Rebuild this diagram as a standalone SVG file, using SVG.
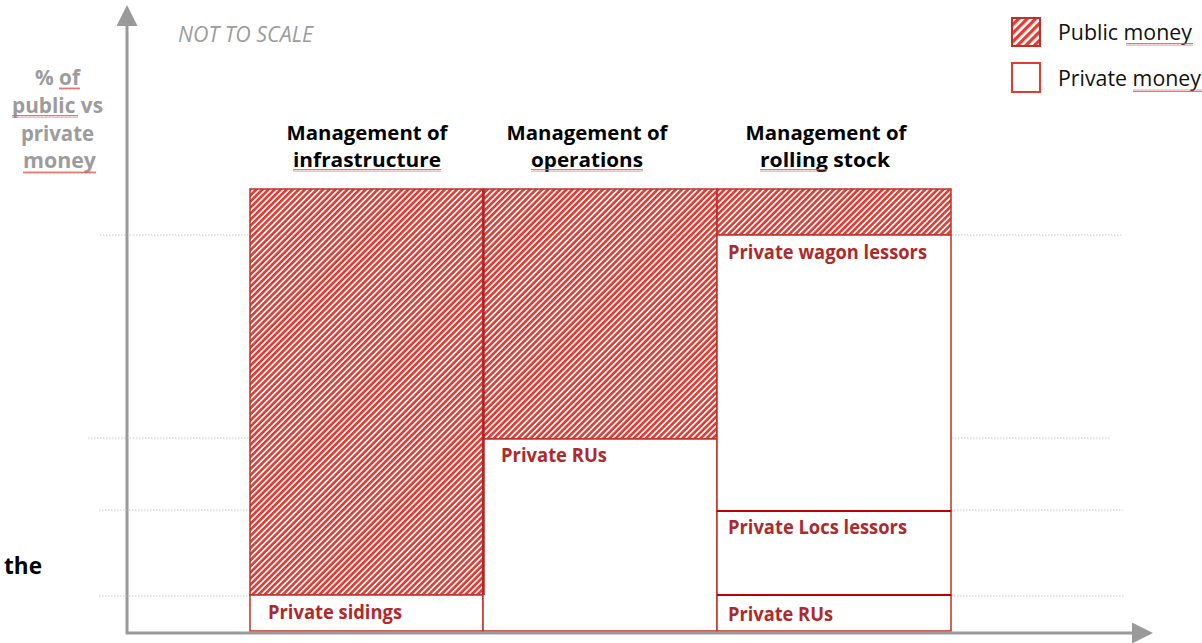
<svg xmlns="http://www.w3.org/2000/svg" width="1202" height="643" viewBox="0 0 1202 643">
  <defs>
    <pattern id="hatch" patternUnits="userSpaceOnUse" width="4.3" height="10" patternTransform="rotate(45)">
      <rect x="0" y="0" width="2.6" height="10" fill="#e33b31"/>
    </pattern>
    <pattern id="hatchLegend" patternUnits="userSpaceOnUse" width="6" height="10" patternTransform="rotate(45)">
      <rect x="0" y="0" width="3.3" height="10" fill="#e33b31"/>
    </pattern>
    <pattern id="wavy" patternUnits="userSpaceOnUse" width="4" height="3">
      <path d="M0,2.5 L1,0.5 L2,2.5 L3,0.5 L4,2.5" fill="none" stroke="#e0554d" stroke-width="0.8"/>
    </pattern>
    <marker id="arrowHead" viewBox="0 0 10 10" refX="0" refY="5" markerWidth="7" markerHeight="7" markerUnits="strokeWidth" orient="auto">
      <path d="M0,0 L10,5 L0,10 Z" fill="#9a9a9a"/>
    </marker>
    <style>
      .grid { stroke: #c8c8c8; stroke-width: 1; stroke-dasharray: 1.5 1.5; fill: none; }
      .axis { stroke: #9a9a9a; stroke-width: 3; fill: none; }
      .pub { fill: url(#hatch); stroke: #c0302a; stroke-width: 1.5; }
      .priv { fill: #ffffff; stroke: #c0302a; stroke-width: 1.5; }
      .title { font-family: "Open Sans", "Liberation Sans", sans-serif; font-weight: 700; font-size: 20px; fill: #000; text-anchor: middle; }
      .lbl { font-family: "Open Sans", "Liberation Sans", sans-serif; font-weight: 700; font-size: 19px; fill: #b0282a; }
      .ylab { font-family: "Open Sans", "Liberation Sans", sans-serif; font-weight: 700; font-size: 20.5px; fill: #9c9c9c; text-anchor: middle; }
      .note { font-family: "Open Sans", "Liberation Sans", sans-serif; font-style: italic; font-size: 21px; fill: #9c9c9c; }
      .leg { font-family: "Open Sans", "Liberation Sans", sans-serif; font-size: 21px; fill: #111; }
      .sq { fill: url(#wavy); }
    </style>
  </defs>

  <!-- grid guides -->
  <g id="guides">
    <line class="grid" x1="100" y1="235" x2="1123" y2="235"/>
    <line class="grid" x1="88" y1="438" x2="1111" y2="438"/>
    <line class="grid" x1="99" y1="510" x2="1123" y2="510"/>
    <line class="grid" x1="99" y1="596" x2="1124" y2="596"/>
  </g>

  <!-- columns -->
  <g id="col-infrastructure">
    <rect class="pub" x="250" y="189" width="233" height="406"/>
    <rect class="priv" x="250" y="595" width="233" height="36"/>
    <text class="lbl" x="268" y="619" textLength="134" lengthAdjust="spacingAndGlyphs">Private sidings</text>
  </g>
  <g id="col-operations">
    <rect class="pub" x="483" y="189" width="234" height="250"/>
    <rect class="priv" x="483" y="439" width="234" height="192"/>
    <line x1="483.5" y1="189" x2="483.5" y2="595" stroke="#b02525" stroke-width="2.5"/>
    <text class="lbl" x="501" y="462" textLength="106" lengthAdjust="spacingAndGlyphs">Private RUs</text>
  </g>
  <g id="col-rolling-stock">
    <rect class="pub" x="717" y="189" width="234" height="46"/>
    <rect class="priv" x="717" y="235" width="234" height="276"/>
    <rect class="priv" x="717" y="511" width="234" height="84"/>
    <rect class="priv" x="717" y="595" width="234" height="36"/>
    <line x1="717" y1="511" x2="951" y2="511" stroke="#c00000" stroke-width="2"/>
    <line x1="717" y1="595" x2="951" y2="595" stroke="#c00000" stroke-width="2"/>
    <text class="lbl" x="728" y="259" textLength="199" lengthAdjust="spacingAndGlyphs">Private wagon lessors</text>
    <text class="lbl" x="728" y="534" textLength="179" lengthAdjust="spacingAndGlyphs">Private Locs lessors</text>
    <text class="lbl" x="728" y="621" textLength="105" lengthAdjust="spacingAndGlyphs">Private RUs</text>
  </g>

  <!-- axes -->
  <g id="connectors">
    <line class="axis" x1="127" y1="634" x2="127" y2="26" marker-end="url(#arrowHead)"/>
    <line class="axis" x1="126" y1="633" x2="1132" y2="633" marker-end="url(#arrowHead)"/>
  </g>

  <!-- column titles -->
  <g id="titles">
    <text class="title" x="367" y="140" textLength="161" lengthAdjust="spacingAndGlyphs">Management of</text>
    <text class="title" x="367" y="167" textLength="148" lengthAdjust="spacingAndGlyphs">infrastructure</text>
    <text class="title" x="587" y="140" textLength="161" lengthAdjust="spacingAndGlyphs">Management of</text>
    <text class="title" x="587" y="167" textLength="112" lengthAdjust="spacingAndGlyphs">operations</text>
    <text class="title" x="826" y="140" textLength="161" lengthAdjust="spacingAndGlyphs">Management of</text>
    <text class="title" x="825" y="167" textLength="130" lengthAdjust="spacingAndGlyphs">rolling stock</text>
    <rect class="sq" x="293" y="169" width="148" height="3"/>
    <rect class="sq" x="531" y="169" width="112" height="3"/>
    <rect class="sq" x="760" y="169" width="67" height="3"/>
  </g>

  <!-- y-axis label -->
  <g id="y-label">
    <text class="ylab" x="57.5" y="85" textLength="45" lengthAdjust="spacingAndGlyphs">% of</text>
    <text class="ylab" x="57.5" y="113" textLength="91" lengthAdjust="spacingAndGlyphs">public vs</text>
    <text class="ylab" x="57.5" y="141" textLength="73" lengthAdjust="spacingAndGlyphs">private</text>
    <text class="ylab" x="59.5" y="168" textLength="73" lengthAdjust="spacingAndGlyphs">money</text>
    <rect class="sq" x="59" y="87" width="21" height="3"/>
    <rect class="sq" x="12" y="115" width="66" height="3"/>
    <rect class="sq" x="23" y="171" width="73" height="3"/>
  </g>

  <g id="note">
    <text class="note" x="178" y="42" textLength="135" lengthAdjust="spacingAndGlyphs">NOT TO SCALE</text>
  </g>

  <g id="stray-text">
    <text x="4" y="574" font-family="Open Sans, Liberation Sans, sans-serif" font-weight="700" font-size="23" fill="#000" textLength="38" lengthAdjust="spacingAndGlyphs">the</text>
  </g>

  <!-- legend -->
  <g id="legend-public">
    <rect x="1012" y="18" width="28" height="28" fill="url(#hatchLegend)" stroke="#c0302a" stroke-width="2"/>
    <text class="leg" x="1058" y="40" textLength="134" lengthAdjust="spacingAndGlyphs">Public money</text>
    <rect class="sq" x="1126" y="43" width="67" height="3"/>
  </g>
  <g id="legend-private">
    <rect x="1012" y="63" width="28" height="29" fill="#fff" stroke="#e03c31" stroke-width="2"/>
    <text class="leg" x="1058" y="86" textLength="143" lengthAdjust="spacingAndGlyphs">Private money</text>
    <rect class="sq" x="1133" y="89" width="69" height="3"/>
  </g>
</svg>
